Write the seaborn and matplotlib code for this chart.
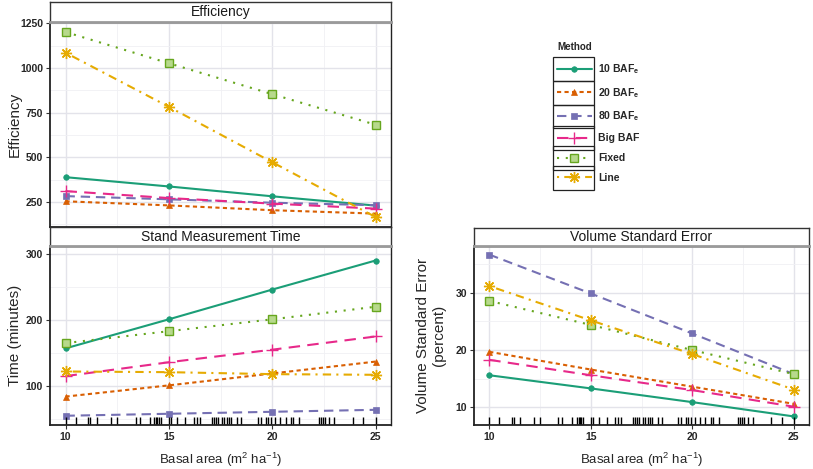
import numpy as np
import pandas as pd
import matplotlib
matplotlib.use("Agg")
import matplotlib.pyplot as plt
import seaborn as sns
from matplotlib.patches import Rectangle
from matplotlib.ticker import MultipleLocator

sns.set_theme(style="whitegrid")
plt.rcParams['font.family'] = ['Liberation Sans', 'DejaVu Sans']

# ---------------- data ----------------
basal = [10, 15, 20, 25]
methods = ["10 BAFe", "20 BAFe", "80 BAFe", "Big BAF", "Fixed", "Line"]
method_labels = [r"10 BAF$_\mathregular{e}$", r"20 BAF$_\mathregular{e}$",
                 r"80 BAF$_\mathregular{e}$", "Big BAF", "Fixed", "Line"]

eff_10 = [389, 337, 282, 230]
eff_20 = [254, 231, 204, 185]
eff_80 = [283, 265, 246, 232]
eff_big = [311, 272, 241, 213]
eff_fixed = [1202, 1027, 854, 683]
eff_line = [1086, 783, 473, 166]

time_10 = [157, 201, 246, 290]
time_20 = [84, 101, 119, 137]
time_80 = [55, 58, 61, 64]
time_big = [115, 136, 155, 175]
time_fixed = [165, 183, 201, 220]
time_line = [122, 121, 118, 117]

vse_10 = [15.6, 13.3, 10.9, 8.4]
vse_20 = [19.7, 16.6, 13.6, 10.6]
vse_80 = [36.7, 29.9, 22.9, 15.8]
vse_big = [18.3, 15.6, 13.0, 10.1]
vse_fixed = [28.6, 24.4, 20.0, 15.8]
vse_line = [31.2, 25.2, 19.3, 13.1]

rug_basal = [10.0, 10.5, 11.1, 11.2, 11.5, 12.2, 12.5, 13.4, 13.6, 14.1, 14.3,
             14.4, 14.45, 14.5, 14.6, 15.0, 15.1, 15.4, 15.8, 16.2, 16.35, 16.5,
             17.1, 17.2, 17.3, 17.4, 17.55, 17.65, 17.8, 17.9, 18.0, 18.3, 18.5,
             19.3, 19.45, 19.7, 19.8, 19.95, 20.15, 20.4, 20.65, 20.9, 21.0,
             21.3, 22.25, 22.35, 22.45, 22.55, 22.75, 23.0, 23.9, 24.4, 25.0]

def long_df(series):
    rows = []
    for m, vals in zip(methods, series):
        for b, v in zip(basal, vals):
            rows.append((m, b, v))
    return pd.DataFrame(rows, columns=["Method", "Basal", "Value"])

df_eff = long_df([eff_10, eff_20, eff_80, eff_big, eff_fixed, eff_line])
df_time = long_df([time_10, time_20, time_80, time_big, time_fixed, time_line])
df_vse = long_df([vse_10, vse_20, vse_80, vse_big, vse_fixed, vse_line])

# ---------------- styles ----------------
colors = {"10 BAFe": "#1B9E77", "20 BAFe": "#D95F02", "80 BAFe": "#7570B3",
          "Big BAF": "#E7298A", "Fixed": "#66A61E", "Line": "#E6AB02"}
lstyles = {"10 BAFe": "-", "20 BAFe": (0, (2.0, 1.6)), "80 BAFe": (0, (4.5, 2.8)),
           "Big BAF": (0, (5.5, 3.5)), "Fixed": (0, (1, 3.2)), "Line": (0, (1, 2.5, 4, 2.5))}
markers = {"10 BAFe": "o", "20 BAFe": "^", "80 BAFe": "s", "Big BAF": "+",
           "Fixed": "s", "Line": (8, 2, 0)}
msizes = {"10 BAFe": 4, "20 BAFe": 4.5, "80 BAFe": 4.5, "Big BAF": 9, "Fixed": 5.5, "Line": 8}
mfaces = {"10 BAFe": "#1B9E77", "20 BAFe": "#D95F02", "80 BAFe": "#7570B3",
          "Big BAF": "#E7298A", "Fixed": "#B7D98C", "Line": "#E6AB02"}

W, H = 813, 469
fig = plt.figure(figsize=(W / 100, H / 100), dpi=100)

def rect(x0, y0, x1, y1):
    return [x0 / W, 1 - y1 / H, (x1 - x0) / W, (y1 - y0) / H]

def strip(x0, y0, x1, y1, title):
    sa = fig.add_axes(rect(x0, y0, x1, y1))
    sa.set_facecolor("white")
    sa.set_xticks([]); sa.set_yticks([])
    sa.grid(False)
    for s in sa.spines.values():
        s.set_color("#333333"); s.set_linewidth(1.0)
    sa.spines["bottom"].set_color("#9A9A9A"); sa.spines["bottom"].set_linewidth(2)
    sa.text(0.5, 0.5, title, ha="center", va="center", fontsize=10, color="#1A1A1A",
            transform=sa.transAxes)

def panel(ax, df, ylim, yticks, rug=False):
    for m in methods:
        d = df[df["Method"] == m]
        sns.lineplot(data=d, x="Basal", y="Value", ax=ax, color=colors[m],
                     linestyle=lstyles[m], marker=markers[m], markersize=msizes[m],
                     markerfacecolor=mfaces[m], markeredgecolor=colors[m],
                     markeredgewidth=1.0 if m in ("Big BAF", "Line", "Fixed") else 0.5,
                     linewidth=1.5, label=m, legend=False)
    if rug:
        sns.rugplot(x=rug_basal, ax=ax, height=0.045, color="black", lw=0.8)
    ax.set_xlim(9.25, 25.75)
    ax.set_ylim(*ylim)
    ax.set_xticks(basal)
    ax.set_yticks(yticks)
    ax.xaxis.set_minor_locator(MultipleLocator(2.5))
    ax.yaxis.set_minor_locator(MultipleLocator((yticks[1] - yticks[0]) / 2))
    ax.grid(True, which="major", color="#E3E3EA", linewidth=1.0)
    ax.grid(True, which="minor", color="#F0F0F4", linewidth=0.6)
    ax.set_facecolor("white")
    for s in ax.spines.values():
        s.set_color("#222222"); s.set_linewidth(1.0)
    ax.spines["left"].set_linewidth(1.3); ax.spines["bottom"].set_linewidth(1.3)
    ax.tick_params(axis="both", which="major", direction="out", length=3, width=0.8,
                   color="#333333", labelsize=7.5, pad=2, left=True, bottom=True)
    ax.tick_params(axis="both", which="minor", length=0)
    for t in ax.get_xticklabels() + ax.get_yticklabels():
        t.set_fontweight("bold")
    ax.set_xlabel(""); ax.set_ylabel("")

xlab = r"Basal area (m$^\mathregular{2}$ ha$^\mathregular{-1}$)"

# Efficiency
ax1 = fig.add_axes(rect(50, 22, 391, 227))
panel(ax1, df_eff, (110, 1258), [250, 500, 750, 1000, 1250])
ax1.set_xticklabels([])
ax1.tick_params(axis="x", length=0)
ax1.set_ylabel("Efficiency", fontsize=11)
ax1.yaxis.set_label_coords((22 - 50) / 341, 0.5)
strip(50, 2, 391, 22, "Efficiency")

# Stand measurement time
ax2 = fig.add_axes(rect(50, 246, 391, 425))
panel(ax2, df_time, (41, 312), [100, 200, 300], rug=True)
ax2.set_ylabel("Time (minutes)", fontsize=11)
ax2.yaxis.set_label_coords((22 - 50) / 341, 0.5)
ax2.set_xlabel(xlab, fontsize=9.5)
ax2.xaxis.set_label_coords(0.5, -(451 - 425) / 179)
strip(50, 227, 391, 246, "Stand Measurement Time")

# Volume standard error
ax3 = fig.add_axes(rect(474, 246, 809, 425))
panel(ax3, df_vse, (6.9, 38.2), [10, 20, 30], rug=True)
ax3.set_ylabel("Volume Standard Error\n(percent)", fontsize=11)
ax3.yaxis.set_label_coords((446 - 474) / 335, 0.5)
ax3.set_xlabel(xlab, fontsize=9.5)
ax3.xaxis.set_label_coords(0.5, -(451 - 425) / 179)
strip(474, 228, 809, 246, "Volume Standard Error")

# Legend
handles = ax1.get_lines()[:len(methods)]
leg = fig.legend(handles, method_labels, loc="upper left",
                 bbox_to_anchor=(550 / W, 1 - 35 / H), frameon=False,
                 title="Method", handlelength=3.3, handletextpad=0.6,
                 labelspacing=0.95, borderpad=0.2, alignment="left",
                 prop={"size": 7.5, "weight": "bold"},
                 title_fontproperties={"size": 7, "weight": "bold"})

fig.canvas.draw()
texts = leg.get_texts()
centers = []
for t in texts:
    bb = t.get_window_extent()
    centers.append((bb.y0 + bb.y1) / 2)
pitch = abs(centers[0] - centers[1]) if len(centers) > 1 else 22
tx0 = min(t.get_window_extent().x0 for t in texts)
left_px = 553
right_px = tx0 - 4
for c in centers:
    r = Rectangle((left_px / W, (c - pitch / 2) / H), (right_px - left_px) / W, pitch / H,
                  transform=fig.transFigure, fill=False, edgecolor="#222222", lw=0.9)
    fig.add_artist(r)

fig.savefig("out.png", dpi=100)
